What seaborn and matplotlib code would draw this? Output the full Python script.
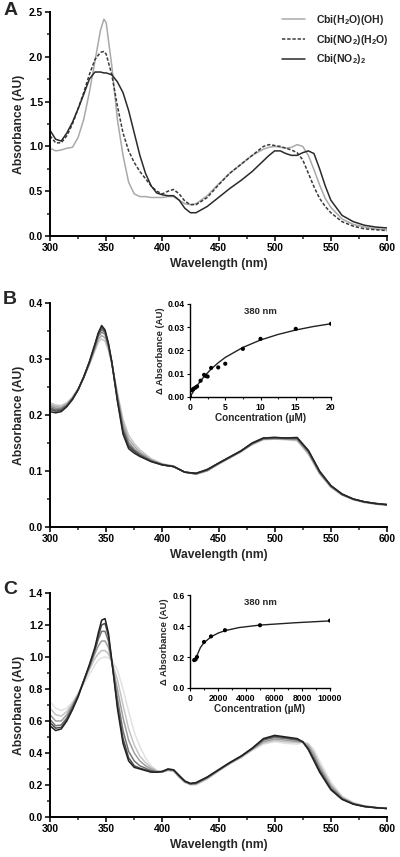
import numpy as np
import pandas as pd
import matplotlib
matplotlib.use("Agg")
import matplotlib.pyplot as plt
from matplotlib.ticker import MultipleLocator
import seaborn as sns

# ---- panel A: three reference spectra ----
wl_a = [300, 305, 310, 315, 320, 325, 330, 335, 340, 345, 348, 350, 355, 360, 365, 370,
        375, 380, 385, 390, 395, 400, 405, 410, 415, 420, 425, 430, 440, 450, 460, 470,
        480, 490, 495, 500, 505, 510, 515, 520, 525, 530, 535, 540, 545, 550, 560, 570,
        580, 590, 600]
a_h2o_oh = [0.98, 0.95, 0.96, 0.98, 0.99, 1.10, 1.30, 1.60, 1.95, 2.30, 2.42, 2.38, 1.90, 1.30,
            0.90, 0.60, 0.47, 0.44, 0.44, 0.43, 0.43, 0.43, 0.44, 0.44, 0.40, 0.36, 0.35, 0.36,
            0.45, 0.58, 0.70, 0.80, 0.90, 0.97, 0.99, 1.00, 0.99, 0.98, 0.99, 1.02, 1.00, 0.90,
            0.74, 0.57, 0.42, 0.32, 0.19, 0.13, 0.10, 0.08, 0.07]
a_no2_h2o = [1.12, 1.04, 1.04, 1.12, 1.25, 1.42, 1.60, 1.80, 1.97, 2.05, 2.06, 2.03, 1.80, 1.45,
             1.15, 0.95, 0.82, 0.72, 0.64, 0.56, 0.50, 0.47, 0.50, 0.52, 0.47, 0.39, 0.35, 0.35,
             0.43, 0.57, 0.70, 0.80, 0.90, 1.00, 1.02, 1.01, 1.00, 0.98, 0.96, 0.93, 0.85, 0.70,
             0.55, 0.42, 0.33, 0.26, 0.16, 0.11, 0.08, 0.07, 0.06]
a_no2_2 = [1.18, 1.08, 1.06, 1.15, 1.27, 1.42, 1.58, 1.75, 1.83, 1.83, 1.82, 1.82, 1.80, 1.72,
           1.60, 1.40, 1.15, 0.90, 0.70, 0.56, 0.48, 0.46, 0.45, 0.45, 0.40, 0.31, 0.26, 0.26,
           0.33, 0.43, 0.53, 0.62, 0.72, 0.84, 0.90, 0.95, 0.95, 0.92, 0.90, 0.90, 0.93, 0.95,
           0.92, 0.75, 0.56, 0.40, 0.23, 0.16, 0.12, 0.10, 0.09]
a_names = ["Cbi(H$_2$O)(OH)", "Cbi(NO$_2$)(H$_2$O)", "Cbi(NO$_2$)$_2$"]

# ---- panel B: titration spectra ----
wl_b = [300, 305, 310, 315, 320, 325, 330, 335, 340, 343, 346, 349, 352, 355, 360, 365, 370,
        375, 380, 390, 400, 410, 420, 430, 440, 450, 460, 470, 480, 490, 500, 510, 520, 530,
        540, 550, 560, 570, 580, 590, 600]
b_spectra = [
    [.222, .218, .217, .222, .232, .247, .267, .290, .315, .330, .336, .332, .316, .292, .240, .192, .164,
     .149, .138, .122, .113, .109, .098, .094, .100, .112, .123, .134, .147, .156, .157, .156, .154, .130,
     .095, .071, .057, .049, .044, .041, .039],
    [.219, .215, .214, .220, .231, .246, .267, .291, .318, .335, .342, .338, .320, .293, .236, .185, .157,
     .144, .134, .120, .112, .109, .098, .095, .101, .113, .124, .135, .148, .157, .158, .157, .156, .132,
     .096, .072, .058, .049, .044, .041, .039],
    [.216, .212, .212, .218, .230, .246, .267, .292, .321, .340, .348, .344, .323, .294, .232, .178, .151,
     .139, .131, .119, .112, .108, .098, .095, .101, .113, .124, .135, .149, .157, .158, .158, .157, .134,
     .097, .073, .058, .050, .045, .042, .040],
    [.213, .209, .210, .217, .229, .245, .267, .293, .323, .343, .353, .347, .325, .294, .230, .174, .147,
     .137, .129, .118, .111, .108, .098, .095, .102, .114, .125, .136, .149, .158, .159, .158, .158, .135,
     .098, .073, .058, .050, .045, .042, .040],
    [.210, .207, .208, .216, .228, .245, .268, .294, .325, .345, .357, .350, .327, .295, .227, .170, .144,
     .135, .128, .117, .111, .108, .098, .096, .102, .114, .125, .136, .150, .159, .160, .159, .159, .136,
     .099, .074, .059, .050, .045, .042, .040],
    [.206, .204, .206, .215, .228, .245, .268, .295, .327, .347, .360, .352, .328, .295, .225, .166, .140,
     .132, .126, .117, .111, .108, .098, .096, .103, .114, .125, .136, .150, .159, .160, .159, .160, .137,
     .100, .074, .059, .050, .045, .042, .040],
]
b_conc = [0, 0.25, 0.5, 0.75, 1.0, 1.5, 2.0, 2.25, 2.5, 3.0, 4.0, 5.0, 7.5, 10, 15, 20]
b_delta = [0.0, 0.0030, 0.0035, 0.0040, 0.0045, 0.0070, 0.0095, 0.0090, 0.0088, 0.0125, 0.0127,
           0.0143, 0.0207, 0.0250, 0.0293, 0.0315]
b_fit_x = [0, 1, 2, 3, 4, 5, 7.5, 10, 12.5, 15, 17.5, 20]
b_fit_y = [0.0, 0.0049, 0.0088, 0.0120, 0.0147, 0.0170, 0.0213, 0.0245, 0.0269, 0.0288, 0.0303, 0.0315]

# ---- panel C: titration spectra ----
wl_c = [300, 305, 310, 315, 320, 325, 330, 335, 340, 343, 346, 349, 352, 355, 360, 365, 370, 375,
        380, 385, 390, 395, 400, 405, 410, 415, 420, 425, 430, 440, 450, 460, 470, 480, 490, 500,
        510, 520, 525, 530, 535, 540, 550, 560, 570, 580, 590, 600]
c_spectra = [
    [.72, .68, .665, .68, .72, .77, .83, .89, .95, .98, .995, 1.0, .995, .98, .92, .80, .66, .53,
     .44, .37, .32, .29, .28, .29, .285, .245, .215, .20, .20, .235, .285, .33, .37, .415, .455, .47,
     .46, .455, .465, .46, .42, .35, .22, .13, .09, .07, .06, .055],
    [.68, .64, .63, .66, .71, .77, .84, .92, .99, 1.02, 1.04, 1.04, 1.02, .97, .86, .70, .55, .45,
     .38, .34, .31, .29, .28, .29, .287, .25, .217, .203, .204, .24, .288, .333, .372, .42, .462, .478,
     .47, .465, .468, .455, .405, .33, .205, .125, .088, .069, .059, .054],
    [.64, .60, .60, .64, .70, .76, .85, .93, 1.02, 1.07, 1.10, 1.10, 1.06, .97, .80, .62, .48, .40,
     .35, .32, .30, .285, .282, .295, .29, .252, .22, .205, .207, .243, .29, .335, .375, .423, .47, .487,
     .48, .472, .468, .445, .39, .315, .195, .12, .085, .068, .059, .054],
    [.61, .57, .575, .62, .69, .76, .85, .94, 1.04, 1.11, 1.16, 1.16, 1.10, .97, .74, .54, .41, .35,
     .32, .305, .29, .282, .283, .297, .292, .255, .222, .207, .21, .246, .292, .337, .378, .426, .48, .497,
     .49, .48, .468, .432, .37, .298, .182, .115, .082, .066, .058, .053],
    [.59, .555, .56, .61, .68, .755, .85, .945, 1.05, 1.13, 1.20, 1.21, 1.13, .975, .70, .49, .37, .32,
     .305, .295, .285, .28, .284, .298, .294, .257, .223, .208, .212, .248, .294, .339, .379, .428, .486, .505,
     .495, .485, .47, .425, .36, .29, .175, .112, .081, .065, .058, .053],
    [.57, .54, .55, .60, .67, .75, .85, .95, 1.06, 1.15, 1.23, 1.24, 1.15, .98, .68, .46, .35, .31,
     .30, .29, .28, .28, .285, .30, .295, .26, .225, .21, .215, .25, .295, .34, .38, .43, .49, .51,
     .50, .49, .47, .42, .35, .28, .17, .11, .08, .065, .058, .053],
]
c_conc = [300, 400, 500, 1000, 1500, 2500, 5000, 10000]
c_delta = [0.180, 0.185, 0.200, 0.297, 0.333, 0.373, 0.405, 0.435]
c_fit_x = [300, 500, 750, 1000, 1500, 2000, 2500, 3500, 5000, 7500, 10000]
c_fit_y = [0.175, 0.210, 0.262, 0.292, 0.330, 0.354, 0.370, 0.390, 0.406, 0.421, 0.433]

sns.set_theme(style="ticks")
plt.rcParams['font.family'] = ['Liberation Sans', 'DejaVu Sans']
plt.rcParams['font.weight'] = 'bold'
plt.rcParams['axes.labelweight'] = 'bold'
plt.rcParams['mathtext.default'] = 'regular'

fig = plt.figure(figsize=(4.0, 8.57), dpi=100)
fig.patch.set_facecolor('white')


def style_axis(ax, tick_size, lw, major_len, minor_len):
    sns.despine(ax=ax)
    for s in ['left', 'bottom']:
        ax.spines[s].set_linewidth(lw)
        ax.spines[s].set_color('black')
    ax.tick_params(which='major', length=major_len, width=lw * 0.8, labelsize=tick_size,
                   colors='black', direction='out', pad=1.5)
    ax.tick_params(which='minor', length=minor_len, width=lw * 0.8, direction='out')
    for lab in ax.get_xticklabels() + ax.get_yticklabels():
        lab.set_fontweight('bold')
    ax.set_facecolor('white')


def main_axis(ax, ymax, ystep):
    ax.set_xlim(300, 600)
    ax.set_ylim(0, ymax)
    ax.xaxis.set_major_locator(MultipleLocator(50))
    ax.xaxis.set_minor_locator(MultipleLocator(25))
    ax.yaxis.set_major_locator(MultipleLocator(ystep))
    ax.yaxis.set_minor_locator(MultipleLocator(ystep / 2))
    ax.set_xlabel('Wavelength (nm)', fontsize=8.7, fontweight='bold', labelpad=3.5)
    ax.set_ylabel('Absorbance (AU)', fontsize=8.7, fontweight='bold', labelpad=3)
    style_axis(ax, 7.4, 1.4, 3.5, 2)


def inset_axis(ax, x, y, fx, fy, xmax, xstep, ymax, ystep, yfmt):
    sns.lineplot(x=fx, y=fy, ax=ax, color='#222222', linewidth=1.0)
    sns.scatterplot(x=x, y=y, ax=ax, color='black', s=9, edgecolor='none', zorder=3)
    ax.set_xlim(0, xmax)
    ax.set_ylim(0, ymax)
    ax.xaxis.set_major_locator(MultipleLocator(xstep))
    ax.xaxis.set_minor_locator(MultipleLocator(xstep / 2))
    ax.yaxis.set_major_locator(MultipleLocator(ystep))
    ax.yaxis.set_major_formatter(yfmt)
    ax.set_xlabel('Concentration (\u00b5M)', fontsize=7.2, fontweight='bold', labelpad=1)
    ax.set_ylabel('\u0394 Absorbance (AU)', fontsize=6.8, fontweight='bold', labelpad=2)
    ax.text(0.5, 0.92, '380 nm', transform=ax.transAxes, ha='center', va='center',
            fontsize=6.8, fontweight='bold')
    style_axis(ax, 6.2, 1.0, 2.5, 1.5)
    ax.patch.set_alpha(0)


# Panel A
ax_a = fig.add_axes([0.125, 0.7246, 0.8425, 0.2614])
df_a = pd.DataFrame({
    'wl': wl_a * 3,
    'abs': a_h2o_oh + a_no2_h2o + a_no2_2,
    'species': [a_names[0]] * len(wl_a) + [a_names[1]] * len(wl_a) + [a_names[2]] * len(wl_a),
})
sns.lineplot(data=df_a, x='wl', y='abs', hue='species', style='species', ax=ax_a,
             palette=['#a9a9a9', '#3a3a3a', '#2a2a2a'],
             dashes=[(None, None), (2.2, 1.2), (None, None)], linewidth=1.1, sort=False)
main_axis(ax_a, 2.5, 0.5)
leg = ax_a.legend(frameon=False, loc='upper right', fontsize=7.6, handlelength=2.2,
                  handletextpad=1.0, labelspacing=0.55, borderaxespad=0.1,
                  bbox_to_anchor=(1.02, 1.02))
for t in leg.get_texts():
    t.set_fontweight('bold')

# Panel B
ax_b = fig.add_axes([0.125, 0.385, 0.8425, 0.2614])
b_cols = ['#c6c6c6', '#a8a8a8', '#8a8a8a', '#6a6a6a', '#4a4a4a', '#262626']
df_b = pd.DataFrame({
    'wl': wl_b * len(b_spectra),
    'abs': [v for s in b_spectra for v in s],
    'run': [i for i in range(len(b_spectra)) for _ in wl_b],
})
sns.lineplot(data=df_b, x='wl', y='abs', hue='run', palette=b_cols, ax=ax_b,
             linewidth=1.1, legend=False, sort=False)
main_axis(ax_b, 0.4, 0.1)

ins_b = fig.add_axes([0.475, 0.5368, 0.3525, 0.1085])
inset_axis(ins_b, b_conc, b_delta, b_fit_x, b_fit_y, 20, 5, 0.04, 0.01,
           matplotlib.ticker.FormatStrFormatter('%.2f'))

# Panel C
ax_c = fig.add_axes([0.125, 0.0467, 0.8425, 0.2614])
c_cols = ['#e2e2e2', '#c4c4c4', '#9e9e9e', '#747474', '#4c4c4c', '#222222']
df_c = pd.DataFrame({
    'wl': wl_c * len(c_spectra),
    'abs': [v for s in c_spectra for v in s],
    'run': [i for i in range(len(c_spectra)) for _ in wl_c],
})
sns.lineplot(data=df_c, x='wl', y='abs', hue='run', palette=c_cols, ax=ax_c,
             linewidth=1.1, legend=False, sort=False)
main_axis(ax_c, 1.4, 0.2)

ins_c = fig.add_axes([0.475, 0.1972, 0.35, 0.1085])
inset_axis(ins_c, c_conc, c_delta, c_fit_x, c_fit_y, 10000, 2000, 0.6, 0.2,
           matplotlib.ticker.FormatStrFormatter('%.1f'))

# panel letters
for letter, ytop in [('A', 2), ('B', 291), ('C', 581)]:
    fig.text(0.008, 1 - ytop / 857, letter, fontsize=14, fontweight='bold', va='top', ha='left')

fig.savefig('out.png', dpi=100, facecolor='white')
